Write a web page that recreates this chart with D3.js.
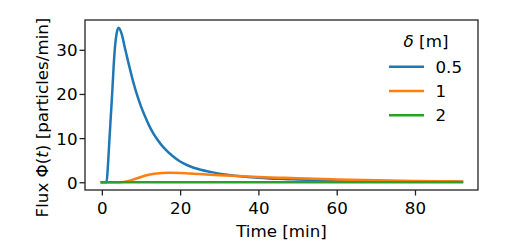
<!DOCTYPE html>
<html>
<head>
<meta charset="utf-8">
<script src="https://cdn.jsdelivr.net/npm/d3@7"></script>
<style>
  html, body { margin: 0; padding: 0; background: #fff; }
  svg text { font-family: "DejaVu Sans", sans-serif; fill: #000; }
</style>
</head>
<body>
<svg id="chart" width="508" height="247"></svg>
<script>
// ---- data ----
const seriesNames = ["0.5", "1", "2"];
const colors = ["#1f77b4", "#ff7f0e", "#2ca02c"];

const blueT = [0, 1.2, 1.5, 1.9, 2.3, 2.7, 3.0, 3.4, 3.8, 4.3, 5.1, 6.0, 7.0, 8.0, 9.0, 10, 11, 12, 13, 14, 15, 16, 18, 20, 22, 25, 28, 32, 36, 40, 45, 50, 60, 70, 80, 92];
const blueV = [0, 0, 3, 9, 15, 21, 26, 31, 33.8, 35, 33.5, 30, 26.3, 22.8, 19.8, 17.2, 15, 13, 11.3, 9.9, 8.7, 7.7, 6.0, 4.7, 3.8, 2.9, 2.3, 1.7, 1.3, 1.05, 0.8, 0.65, 0.42, 0.28, 0.19, 0.12];

const orangeT = [0, 4.5, 6, 8, 10, 12, 14, 17, 20, 25, 30, 35, 40, 45, 50, 60, 70, 80, 92];
const orangeV = [0, 0, 0.15, 0.6, 1.2, 1.7, 2.0, 2.15, 2.1, 1.85, 1.6, 1.4, 1.2, 1.05, 0.9, 0.65, 0.45, 0.3, 0.2];

const greenT = [0, 20, 40, 60, 80, 92];
const greenV = [0, 0, 0, 0, 0, 0];

const xTicks = [0, 20, 40, 60, 80];
const yTicks = [0, 10, 20, 30];

const xLabel = "Time [min]";
const legendTitle = "[m]";

// ---- layout ----
const mLeft = 85, mRight = 478, mTop = 20, mBottom = 190;
const svg = d3.select("#chart");

const x = d3.scaleLinear().domain([-4.3, 96.1]).range([mLeft, mRight]);
const y = d3.scaleLinear().domain([-1.75, 36.75]).range([mBottom, mTop]);

const series = [
  blueT.map((t, i) => [t, blueV[i]]),
  orangeT.map((t, i) => [t, orangeV[i]]),
  greenT.map((t, i) => [t, greenV[i]])
];

const line = d3.line().x(d => x(d[0])).y(d => y(d[1])).curve(d3.curveMonotoneX);
const lw = 2.5;

svg.append("clipPath").attr("id", "plotclip").append("rect")
  .attr("x", mLeft).attr("y", mTop).attr("width", mRight - mLeft).attr("height", mBottom - mTop);

const g = svg.append("g").attr("clip-path", "url(#plotclip)");
series.forEach((s, i) => {
  g.append("path").datum(s)
    .attr("d", line)
    .attr("fill", "none")
    .attr("stroke", colors[i])
    .attr("stroke-width", lw)
    .attr("stroke-linejoin", "round")
    .attr("stroke-linecap", "square");
});

// axes
const fs = 16.7;
const xAxis = d3.axisBottom(x).tickValues(xTicks).tickSize(5.5).tickPadding(6.5).tickFormat(d3.format("d"));
const yAxis = d3.axisLeft(y).tickValues(yTicks).tickSize(5.5).tickPadding(2).tickFormat(d3.format("d"));

const gx = svg.append("g").attr("transform", `translate(0,${mBottom})`).call(xAxis);
const gy = svg.append("g").attr("transform", `translate(${mLeft},0)`).call(yAxis);
[gx, gy].forEach(a => {
  a.select(".domain").remove();
  a.selectAll(".tick line").attr("stroke", "#222").attr("stroke-width", 1.3);
  a.selectAll(".tick text").attr("font-size", fs).attr("font-family", "DejaVu Sans").attr("fill", "#000");
});
gy.selectAll(".tick text").attr("dy", "0.36em");

// frame
svg.append("rect").attr("x", mLeft).attr("y", mTop).attr("width", mRight - mLeft).attr("height", mBottom - mTop)
  .attr("fill", "none").attr("stroke", "#222").attr("stroke-width", 1.3);

// x label
svg.append("text").attr("x", (mLeft + mRight) / 2).attr("y", 236.5)
  .attr("text-anchor", "middle").attr("font-size", fs).text(xLabel);

// y label
const yl = svg.append("text")
  .attr("transform", `translate(47.5,117.5) rotate(-90)`)
  .attr("text-anchor", "middle").attr("font-size", fs);
yl.append("tspan").text("Flux \u03A6(");
yl.append("tspan").attr("font-style", "italic").text("t");
yl.append("tspan").text(") [particles/min]");

// legend
const lt = svg.append("text").attr("x", 426).attr("y", 47).attr("text-anchor", "middle").attr("font-size", fs);
lt.append("tspan").attr("font-style", "italic").text("\u03B4");
lt.append("tspan").text(" " + legendTitle);

seriesNames.forEach((name, i) => {
  const ly = 66.7 + i * 24.3;
  svg.append("line").attr("x1", 389).attr("x2", 424).attr("y1", ly).attr("y2", ly)
    .attr("stroke", colors[i]).attr("stroke-width", lw);
  svg.append("text").attr("x", 435.5).attr("y", ly + 5.8).attr("font-size", fs).text(name);
});
</script>
</body>
</html>
